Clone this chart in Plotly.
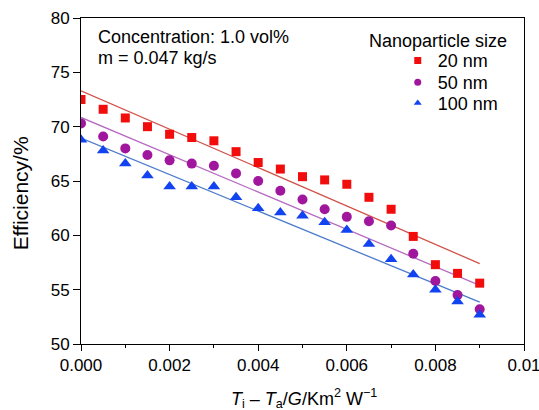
import plotly.graph_objects as go

# ---- data ----
x_vals = [0.0, 0.0005, 0.001, 0.0015, 0.002, 0.0025, 0.003, 0.0035, 0.004, 0.0045,
          0.005, 0.0055, 0.006, 0.0065, 0.007, 0.0075, 0.008, 0.0085, 0.009]
eff_20nm = [72.5, 71.6, 70.8, 70.0, 69.3, 69.0, 68.7, 67.7, 66.7, 66.1,
            65.4, 65.1, 64.7, 63.5, 62.4, 59.9, 57.3, 56.5, 55.6]
eff_50nm = [70.3, 69.1, 68.0, 67.4, 66.9, 66.6, 66.4, 65.7, 65.0, 64.1,
            63.3, 62.4, 61.7, 61.3, 60.9, 58.3, 55.8, 54.5, 53.2]
eff_100nm = [68.8, 67.8, 66.6, 65.5, 64.5, 64.5, 64.5, 63.5, 62.5, 62.1,
             61.8, 61.2, 60.5, 59.2, 57.8, 56.4, 55.0, 53.9, 52.7]

fit_x = [0.0, 0.009]
fit_20nm = [73.3, 57.4]
fit_50nm = [70.85, 55.4]
fit_100nm = [68.95, 53.85]

series_names = ["20 nm", "50 nm", "100 nm"]
x_ticks = [0.0, 0.002, 0.004, 0.006, 0.008, 0.01]
x_tick_labels = ["0.000", "0.002", "0.004", "0.006", "0.008", "0.01"]
y_ticks = [50, 55, 60, 65, 70, 75, 80]

FONT = "Liberation Sans, Arial, Helvetica, sans-serif"
marker_cols = ["#f20d0d", "#a0179e", "#1243f0"]
line_cols = ["#d0524a", "#b66cc2", "#4c7bc9"]
symbols = ["square", "circle", "triangle-up"]
msizes = [9, 10, 11]
legend_ids = ["legend", "legend2", "legend3"]
legend_y = [0.869, 0.802, 0.738]

fig = go.Figure()

for fy, lc in zip([fit_20nm, fit_50nm, fit_100nm], line_cols):
    fig.add_trace(go.Scatter(x=fit_x, y=fy, mode="lines",
                             line=dict(color=lc, width=1.3),
                             showlegend=False, hoverinfo="skip"))

for ys, mc, sym, ms in zip([eff_20nm, eff_50nm, eff_100nm], marker_cols, symbols, msizes):
    fig.add_trace(go.Scatter(x=x_vals, y=ys, mode="markers",
                             marker=dict(color=mc, symbol=sym, size=ms, line=dict(width=0)),
                             showlegend=False))

# legend entries (smaller symbols, as in the reference)
for name, mc, sym, lid in zip(series_names, marker_cols, symbols, legend_ids):
    fig.add_trace(go.Scatter(x=[None], y=[None], mode="markers", name=name, legend=lid,
                             marker=dict(color=mc, symbol=sym, size=7, line=dict(width=0))))

legend_common = dict(x=0.715, xanchor="left", yanchor="middle",
                     bgcolor="rgba(0,0,0,0)", borderwidth=0,
                     font=dict(size=18), itemclick=False)

fig.update_layout(
    width=539, height=410,
    margin=dict(l=81, r=15, t=18, b=66, autoexpand=False),
    paper_bgcolor="white", plot_bgcolor="white",
    font=dict(family=FONT, size=17, color="black"),
    showlegend=True,
    legend=dict(y=legend_y[0], **legend_common),
    legend2=dict(y=legend_y[1], **legend_common),
    legend3=dict(y=legend_y[2], **legend_common),
    xaxis=dict(range=[0, 0.0100001], tickvals=x_ticks, ticktext=x_tick_labels,
               ticks="outside", ticklen=6, tickwidth=1, tickcolor="black",
               ticklabeloverflow="allow", automargin=False,
               minor=dict(dtick=0.001, tick0=0, ticks="outside", ticklen=3, tickcolor="black", showgrid=False),
               showline=True, linecolor="black", linewidth=1, mirror=True,
               showgrid=False, zeroline=False, tickfont=dict(size=17)),
    yaxis=dict(range=[50, 80], tickvals=y_ticks, automargin=False,
               ticks="outside", ticklen=7, tickwidth=1, tickcolor="black",
               showline=True, linecolor="black", linewidth=1, mirror=True,
               showgrid=False, zeroline=False, tickfont=dict(size=17)),
    annotations=[
        dict(text="Concentration: 1.0 vol%", xref="paper", yref="paper",
             x=0.034, y=0.941, xanchor="left", yanchor="middle",
             showarrow=False, font=dict(size=18)),
        dict(text="m = 0.047 kg/s", xref="paper", yref="paper",
             x=0.034, y=0.876, xanchor="left", yanchor="middle",
             showarrow=False, font=dict(size=18)),
        dict(text="Nanoparticle size", xref="paper", yref="paper",
             x=0.646, y=0.930, xanchor="left", yanchor="middle",
             showarrow=False, font=dict(size=18)),
        dict(text="Efficiency/%", xref="paper", yref="paper",
             x=-0.137, y=0.463, xanchor="center", yanchor="middle",
             textangle=-90, showarrow=False, font=dict(size=21)),
        dict(text="<i>T</i><sub>i</sub> – <i>T</i><sub>a</sub>/<i>G</i>/Km<sup>2</sup> W<sup>−1</sup>",
             xref="paper", yref="paper", x=0.503, y=-0.168,
             xanchor="center", yanchor="middle", showarrow=False, font=dict(size=18)),
    ],
)

fig.write_html("out.html")
